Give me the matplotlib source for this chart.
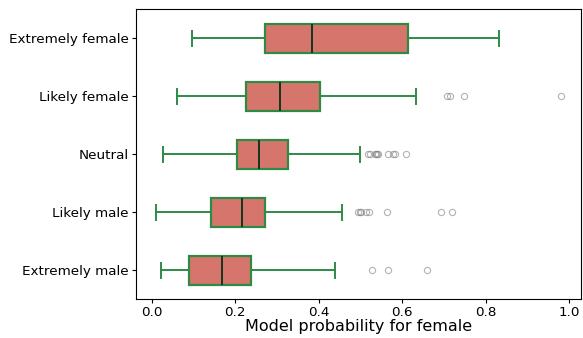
import matplotlib
matplotlib.use("Agg")
import matplotlib.pyplot as plt

# categories from bottom to top
categories = ["Extremely male", "Likely male", "Neutral", "Likely female", "Extremely female"]

# box statistics: whisker low, q1, median, q3, whisker high
whislo = [0.021, 0.010, 0.026, 0.061, 0.096]
q1 = [0.089, 0.142, 0.203, 0.225, 0.270]
med = [0.167, 0.215, 0.256, 0.306, 0.383]
q3 = [0.238, 0.271, 0.326, 0.404, 0.615]
whishi = [0.440, 0.457, 0.499, 0.634, 0.833]

# outliers per category
fliers = [
    [0.527, 0.567, 0.659],
    [0.494, 0.498, 0.502, 0.514, 0.520, 0.564, 0.693, 0.719],
    [0.518, 0.522, 0.535, 0.538, 0.540, 0.542, 0.565, 0.579, 0.583, 0.609],
    [0.708, 0.715, 0.749, 0.981],
    [],
]

stats = []
for i, name in enumerate(categories):
    stats.append(dict(label=name, whislo=whislo[i], q1=q1[i], med=med[i],
                      q3=q3[i], whishi=whishi[i], fliers=fliers[i]))

fig = plt.figure(figsize=(5.83, 3.38), dpi=100)
ax = fig.add_axes([0.233, 0.114, 0.764, 0.858])

green = "#2f8a45"
ax.bxp(stats, vert=False, widths=0.5, patch_artist=True,
       boxprops=dict(facecolor="#d6756b", edgecolor=green, linewidth=1.6),
       whiskerprops=dict(color=green, linewidth=1.4),
       capprops=dict(color=green, linewidth=1.4),
       medianprops=dict(color="#14351c", linewidth=1.4),
       flierprops=dict(marker="o", markersize=4.5, markerfacecolor="none",
                       markeredgecolor="#808080", alpha=0.6, markeredgewidth=0.8))

ax.set_ylim(0.5, 5.5)
ax.set_xlabel("Model probability for female", fontsize=11.5, labelpad=0)
ax.tick_params(axis="both", labelsize=9.7, length=3, pad=2)
ax.set_xticks([0.0, 0.2, 0.4, 0.6, 0.8, 1.0])

fig.savefig("out.png", dpi=100)
